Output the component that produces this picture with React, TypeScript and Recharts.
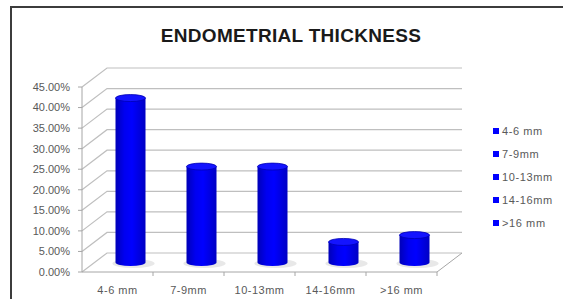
import { BarChart, Bar, XAxis, YAxis, CartesianGrid, Legend, ReferenceLine } from "recharts";

const categories = ["4-6 mm", "7-9mm", "10-13mm", "14-16mm", ">16 mm"];
const thickness = [40.0, 23.33, 23.33, 5.0, 6.67];
const yTicks = [0, 5, 10, 15, 20, 25, 30, 35, 40, 45];

// 3d depth offset of the back wall
const DX = 25;
const DY = 19;
const FONT = "'Liberation Sans', Arial, sans-serif";
const TEXT = "#595959";
const GRID = "#bfbfbf";

const chartData = categories.map((name, i) => ({ name, value: thickness[i] }));

function GridLine(props: any) {
  const { x1, y1, x2 } = props;
  return (
    <path
      key={props.key ?? props.index}
      d={`M${x1},${y1} L${x1 + DX},${y1 - DY} L${x2 + DX},${y1 - DY}`}
      fill="none"
      stroke={GRID}
      strokeWidth={1.2}
    />
  );
}

function Floor(props: any) {
  const { x1, y1, x2 } = props;
  const step = (x2 - x1) / categories.length;
  return (
    <g stroke="#a6a6a6" strokeWidth={1} fill="none">
      <path d={`M${x1},${y1} L${x2},${y1} L${x2 + DX},${y1 - DY}`} />
      {categories.map((_, i) => {
        const xb = x1 + step * (i + 1);
        return <line key={i} x1={xb} y1={y1} x2={xb} y2={y1 + 4} />;
      })}
    </g>
  );
}

function Cylinder(props: any) {
  const { x, y, width, height } = props;
  const cx = x + width / 2 + DX / 2;
  const top = y - DY / 2;
  const bottom = y + height - DY / 2;
  const rx = width / 2;
  const ry = 3.5;
  return (
    <g>
      <ellipse cx={cx + 3} cy={bottom + 1} rx={rx + 6} ry={ry + 1} fill="#d6d6d6" opacity={0.55} />
      <path
        d={`M${cx - rx},${top} L${cx - rx},${bottom} A${rx},${ry} 0 0 0 ${cx + rx},${bottom} L${cx + rx},${top} Z`}
        fill="url(#cylBody)"
      />
      <ellipse cx={cx} cy={top} rx={rx} ry={ry} fill="#1414ff" stroke="#0000b4" strokeWidth={0.8} />
    </g>
  );
}

function LegendList() {
  return (
    <div style={{ fontFamily: FONT, fontSize: 11, color: TEXT, letterSpacing: 0.6 }}>
      {categories.map((c) => (
        <div key={c} style={{ display: "flex", alignItems: "center", height: 22.8, whiteSpace: "nowrap" }}>
          <span style={{ display: "inline-block", width: 6, height: 6, background: "#0000ff", marginRight: 3 }} />
          <span>{c}</span>
        </div>
      ))}
    </div>
  );
}

export default function App() {
  return (
    <div style={{ position: "absolute", left: 0, top: 0, width: 563, height: 299, background: "#fff", overflow: "hidden" }}>
      <div
        style={{
          position: "absolute",
          left: 10,
          top: 6,
          width: 600,
          height: 400,
          borderTop: "2px solid #3c3c3c",
          borderLeft: "2px solid #3c3c3c",
        }}
      />
      <div
        style={{
          position: "absolute",
          left: 91,
          top: 26,
          width: 400,
          textAlign: "center",
          fontFamily: FONT,
          fontWeight: "bold",
          fontSize: 19,
          lineHeight: "19px",
          color: "#1a1a1a",
          letterSpacing: 0.3,
        }}
      >
        ENDOMETRIAL THICKNESS
      </div>
      <BarChart width={563} height={299} data={chartData} margin={{ top: 87, right: 126, bottom: 2, left: 22 }}>
        <defs>
          <linearGradient id="cylBody" x1="0" y1="0" x2="1" y2="0">
            <stop offset="0%" stopColor="#0000b8" />
            <stop offset="30%" stopColor="#0000f0" />
            <stop offset="55%" stopColor="#0000ff" />
            <stop offset="100%" stopColor="#0000c4" />
          </linearGradient>
        </defs>
        <CartesianGrid vertical={false} horizontal={GridLine} />
        <XAxis
          dataKey="name"
          height={25}
          axisLine={false}
          tickLine={false}
          tickMargin={8}
          tick={{ fontSize: 11, fill: TEXT, fontFamily: FONT, letterSpacing: 0.5 }}
          interval={0}
        />
        <YAxis
          width={60}
          domain={[0, 45]}
          ticks={yTicks}
          interval={0}
          tickFormatter={(v) => `${Number(v).toFixed(2)}%`}
          axisLine={{ stroke: "#a6a6a6" }}
          tickLine={{ stroke: "#a6a6a6" }}
          tickSize={4}
          tickMargin={8}
          tick={{ fontSize: 11, fill: TEXT, fontFamily: FONT }}
        />
        <ReferenceLine y={0} ifOverflow="visible" shape={Floor} />
        <Legend
          layout="horizontal"
          align="center"
          verticalAlign="middle"
          content={LegendList}
          wrapperStyle={{ left: 493, top: 120, width: 70 }}
        />
        <Bar dataKey="value" barSize={30} shape={Cylinder} isAnimationActive={false} />
      </BarChart>
    </div>
  );
}
